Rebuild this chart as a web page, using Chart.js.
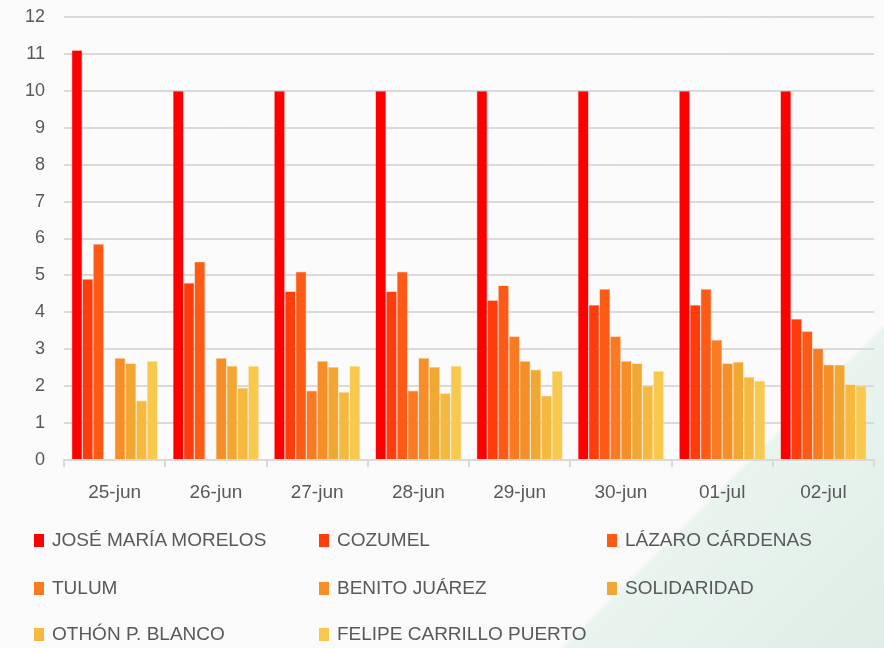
<!DOCTYPE html>
<html>
<head>
<meta charset="utf-8">
<script src="https://cdn.jsdelivr.net/npm/chart.js@4"></script>
<style>
  html, body { margin: 0; padding: 0; }
  body {
    width: 884px; height: 648px; overflow: hidden; position: relative;
    background: linear-gradient(135deg, #fbfbfb 0%, #fafafa 78.8%, #e9f4ef 79.2%, #dfede6 100%);
    font-family: "Liberation Sans", Arial, sans-serif;
  }
  #wrap { position: absolute; left: 0; top: 0; width: 884px; height: 648px; }
  #legend { position: absolute; left: 0; top: 0; width: 884px; height: 648px; pointer-events: none; }
  .li { position: absolute; display: flex; align-items: center; color: #595959; font-size: 19px; white-space: nowrap; }
  .sw { width: 10px; height: 13px; margin-right: 8px; }
</style>
</head>
<body>
<div id="wrap"><canvas id="c" width="884" height="648"></canvas></div>
<div id="legend"></div>
<script>
const categories = ["25-jun", "26-jun", "27-jun", "28-jun", "29-jun", "30-jun", "01-jul", "02-jul"];
const seriesNames = ["JOSÉ MARÍA MORELOS", "COZUMEL", "LÁZARO CÁRDENAS", "TULUM", "BENITO JUÁREZ", "SOLIDARIDAD", "OTHÓN P. BLANCO", "FELIPE CARRILLO PUERTO"];
const joseMariaMorelos   = [11.1, 10, 10, 10, 10, 10, 10, 10];
const cozumel            = [4.9, 4.8, 4.57, 4.57, 4.33, 4.2, 4.2, 3.82];
const lazaroCardenas     = [5.85, 5.37, 5.1, 5.1, 4.73, 4.63, 4.63, 3.49];
const tulum              = [null, null, 1.88, 1.88, 3.35, 3.35, 3.25, 3.02];
const benitoJuarez       = [2.76, 2.76, 2.68, 2.76, 2.68, 2.68, 2.62, 2.58];
const solidaridad        = [2.62, 2.55, 2.52, 2.52, 2.45, 2.62, 2.66, 2.58];
const othonPBlanco       = [1.61, 1.95, 1.84, 1.81, 1.74, 2.01, 2.25, 2.05];
const felipeCarrilloPuerto = [2.68, 2.55, 2.55, 2.55, 2.41, 2.41, 2.15, 2.01];
const yTicks = [0,1,2,3,4,5,6,7,8,9,10,11,12];

const seriesValues = [joseMariaMorelos, cozumel, lazaroCardenas, tulum, benitoJuarez, solidaridad, othonPBlanco, felipeCarrilloPuerto];
const colors  = ["#FF0000", "#FF3D0C", "#FC5A15", "#F97A20", "#F68F28", "#F1A833", "#F5B940", "#F9C94F"];
const borders = ["#FF8080", "#FF9E86", "#FDAC8A", "#FCBC90", "#FAC794", "#F8D399", "#FADCA0", "#FCE4A7"];

const datasets = seriesNames.map((name, i) => ({
  label: name,
  data: seriesValues[i],
  backgroundColor: colors[i],
  borderColor: borders[i],
  borderWidth: 0.6,
  categoryPercentage: 0.85,
  barPercentage: 1.0
}));

const FONT_Y = { family: "'Liberation Sans', Arial, sans-serif", size: 18 };
const FONT_X = { family: "'Liberation Sans', Arial, sans-serif", size: 19 };

new Chart(document.getElementById('c'), {
  type: 'bar',
  data: { labels: categories, datasets },
  options: {
    responsive: false,
    animation: false,
    layout: { padding: { left: 0, right: 10, top: 17, bottom: 138 } },
    plugins: { legend: { display: false }, tooltip: { enabled: false } },
    scales: {
      x: {
        offset: true,
        grid: { offset: true, drawOnChartArea: false, drawTicks: true, tickLength: 7, color: "#d9d9d9", lineWidth: 2 },
        border: { color: "#d9d9d9", width: 2 },
        ticks: { color: "#595959", font: FONT_X, padding: 14 },
        afterFit: s => { s.height = 50; s.paddingLeft = 0; s.paddingRight = 0; }
      },
      y: {
        min: 0, max: 12,
        afterBuildTicks: s => { s.ticks = yTicks.map(v => ({ value: v })); },
        grid: { color: "#dadada", lineWidth: 2, drawTicks: false },
        border: { display: false },
        ticks: { color: "#595959", font: FONT_Y, padding: 19 },
        afterFit: s => { s.width = 64; s.paddingTop = 0; s.paddingBottom = 0; }
      }
    }
  }
});

const legendPos = [
  [34, 540], [319, 540], [607, 540],
  [34, 588], [319, 588], [607, 588],
  [34, 634], [319, 634]
];
const lg = document.getElementById('legend');
seriesNames.forEach((name, i) => {
  const d = document.createElement('div');
  d.className = 'li';
  d.style.left = legendPos[i][0] + 'px';
  d.style.top = (legendPos[i][1] - 11) + 'px';
  d.style.height = '22px';
  const sw = document.createElement('span');
  sw.className = 'sw';
  sw.style.background = colors[i];
  const t = document.createElement('span');
  t.textContent = name;
  d.appendChild(sw); d.appendChild(t);
  lg.appendChild(d);
});
</script>
</body>
</html>
